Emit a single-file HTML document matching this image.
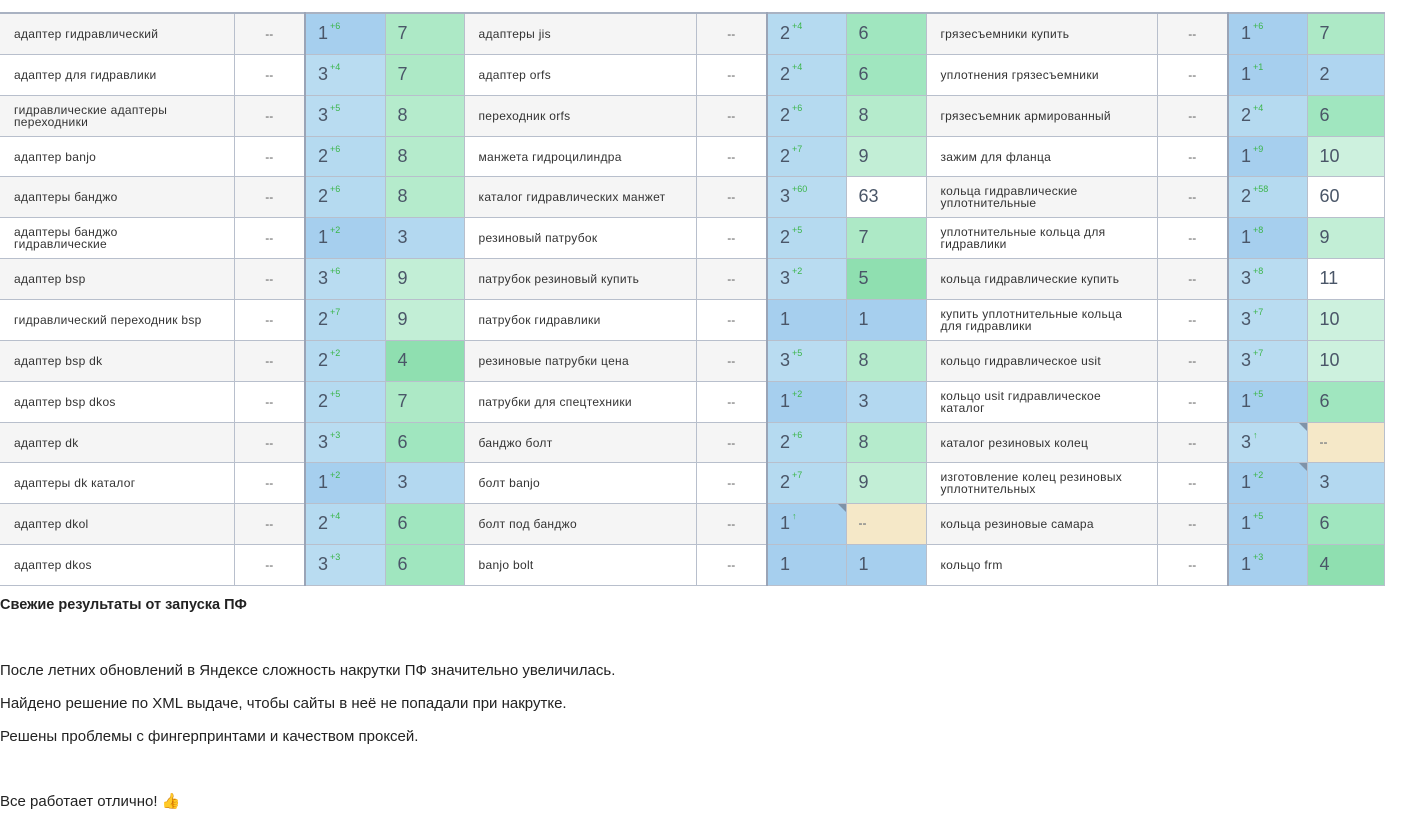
<!DOCTYPE html>
<html><head><meta charset="utf-8"><style>
body{margin:0;background:#fff;font-family:"Liberation Sans","DejaVu Sans",sans-serif;width:1406px;height:820px;overflow:hidden;position:relative}
table{position:absolute;left:0;top:12px;border-collapse:collapse;table-layout:fixed;width:1384px;border-top:2px solid #a9b2c2}
td{height:39.86px;border:1px solid #b8bfcc;padding:0;vertical-align:middle;font-size:12px;color:#333;overflow:hidden}
tr td:first-child{border-left:none}
tr:nth-child(odd) td.k,tr:nth-child(odd) td.d{background:#f5f5f5}
td.k{padding-left:14px;padding-right:22px;line-height:12px;letter-spacing:0.3px}
td.d{text-align:center;color:#555}
td.p,td.v{vertical-align:top;padding-left:12px;font-size:18px;color:#4a5668;padding-top:9px;height:30.86px;position:relative}
td.p{border-left:2px solid #9aa4b6}
td.p sup{font-size:9px;color:#3bb54a;vertical-align:top;position:relative;top:-2px;margin-left:2px}
.p1{background:#a6cfee}.p2{background:#b5daf0}.p3{background:#b9dcf1}
.b1{background:#a6cfee}.b2{background:#afd5f0}.b3{background:#b3d8f0}
.g4,.g5{background:#8fdfb0}.g6{background:#a0e6bf}.g7{background:#ade9c6}.g8{background:#b5ebcc}.g9{background:#c2eed6}.g10{background:#cdf1de}.w{background:#fff}
.y{background:#f5e8c8;font-size:12px!important;padding-top:12px!important;height:27.86px!important}
.c::after{content:"";position:absolute;right:0;top:0;border-style:solid;border-width:0 8px 8px 0;border-color:transparent #7f93a8 transparent transparent}
.t{position:absolute;left:0;font-size:15px;color:#222;white-space:nowrap}
</style></head><body>
<table>
<colgroup><col style="width:234px"><col style="width:71px"><col style="width:80px"><col style="width:79px"><col style="width:232px"><col style="width:71px"><col style="width:79px"><col style="width:80px"><col style="width:231px"><col style="width:71px"><col style="width:79px"><col style="width:77px"></colgroup>
<tr><td class="k">адаптер гидравлический</td><td class="d">--</td><td class="p p1">1<sup>+6</sup></td><td class="v g7">7</td><td class="k">адаптеры jis</td><td class="d">--</td><td class="p p2">2<sup>+4</sup></td><td class="v g6">6</td><td class="k">грязесъемники купить</td><td class="d">--</td><td class="p p1">1<sup>+6</sup></td><td class="v g7">7</td></tr>
<tr><td class="k">адаптер для гидравлики</td><td class="d">--</td><td class="p p3">3<sup>+4</sup></td><td class="v g7">7</td><td class="k">адаптер orfs</td><td class="d">--</td><td class="p p2">2<sup>+4</sup></td><td class="v g6">6</td><td class="k">уплотнения грязесъемники</td><td class="d">--</td><td class="p p1">1<sup>+1</sup></td><td class="v b2">2</td></tr>
<tr><td class="k">гидравлические адаптеры переходники</td><td class="d">--</td><td class="p p3">3<sup>+5</sup></td><td class="v g8">8</td><td class="k">переходник orfs</td><td class="d">--</td><td class="p p2">2<sup>+6</sup></td><td class="v g8">8</td><td class="k">грязесъемник армированный</td><td class="d">--</td><td class="p p2">2<sup>+4</sup></td><td class="v g6">6</td></tr>
<tr><td class="k">адаптер banjo</td><td class="d">--</td><td class="p p2">2<sup>+6</sup></td><td class="v g8">8</td><td class="k">манжета гидроцилиндра</td><td class="d">--</td><td class="p p2">2<sup>+7</sup></td><td class="v g9">9</td><td class="k">зажим для фланца</td><td class="d">--</td><td class="p p1">1<sup>+9</sup></td><td class="v g10">10</td></tr>
<tr><td class="k">адаптеры банджо</td><td class="d">--</td><td class="p p2">2<sup>+6</sup></td><td class="v g8">8</td><td class="k">каталог гидравлических манжет</td><td class="d">--</td><td class="p p3">3<sup>+60</sup></td><td class="v w">63</td><td class="k">кольца гидравлические уплотнительные</td><td class="d">--</td><td class="p p2">2<sup>+58</sup></td><td class="v w">60</td></tr>
<tr><td class="k">адаптеры банджо<br>гидравлические</td><td class="d">--</td><td class="p p1">1<sup>+2</sup></td><td class="v b3">3</td><td class="k">резиновый патрубок</td><td class="d">--</td><td class="p p2">2<sup>+5</sup></td><td class="v g7">7</td><td class="k">уплотнительные кольца для<br>гидравлики</td><td class="d">--</td><td class="p p1">1<sup>+8</sup></td><td class="v g9">9</td></tr>
<tr><td class="k">адаптер bsp</td><td class="d">--</td><td class="p p3">3<sup>+6</sup></td><td class="v g9">9</td><td class="k">патрубок резиновый купить</td><td class="d">--</td><td class="p p3">3<sup>+2</sup></td><td class="v g5">5</td><td class="k">кольца гидравлические купить</td><td class="d">--</td><td class="p p3">3<sup>+8</sup></td><td class="v w">11</td></tr>
<tr><td class="k">гидравлический переходник bsp</td><td class="d">--</td><td class="p p2">2<sup>+7</sup></td><td class="v g9">9</td><td class="k">патрубок гидравлики</td><td class="d">--</td><td class="p p1">1</td><td class="v b1">1</td><td class="k">купить уплотнительные кольца<br>для гидравлики</td><td class="d">--</td><td class="p p3">3<sup>+7</sup></td><td class="v g10">10</td></tr>
<tr><td class="k">адаптер bsp dk</td><td class="d">--</td><td class="p p2">2<sup>+2</sup></td><td class="v g4">4</td><td class="k">резиновые патрубки цена</td><td class="d">--</td><td class="p p3">3<sup>+5</sup></td><td class="v g8">8</td><td class="k">кольцо гидравлическое usit</td><td class="d">--</td><td class="p p3">3<sup>+7</sup></td><td class="v g10">10</td></tr>
<tr><td class="k">адаптер bsp dkos</td><td class="d">--</td><td class="p p2">2<sup>+5</sup></td><td class="v g7">7</td><td class="k">патрубки для спецтехники</td><td class="d">--</td><td class="p p1">1<sup>+2</sup></td><td class="v b3">3</td><td class="k">кольцо usit гидравлическое<br>каталог</td><td class="d">--</td><td class="p p1">1<sup>+5</sup></td><td class="v g6">6</td></tr>
<tr><td class="k">адаптер dk</td><td class="d">--</td><td class="p p3">3<sup>+3</sup></td><td class="v g6">6</td><td class="k">банджо болт</td><td class="d">--</td><td class="p p2">2<sup>+6</sup></td><td class="v g8">8</td><td class="k">каталог резиновых колец</td><td class="d">--</td><td class="p p3 c">3<sup>↑</sup></td><td class="v y">--</td></tr>
<tr><td class="k">адаптеры dk каталог</td><td class="d">--</td><td class="p p1">1<sup>+2</sup></td><td class="v b3">3</td><td class="k">болт banjo</td><td class="d">--</td><td class="p p2">2<sup>+7</sup></td><td class="v g9">9</td><td class="k">изготовление колец резиновых<br>уплотнительных</td><td class="d">--</td><td class="p p1 c">1<sup>+2</sup></td><td class="v b3">3</td></tr>
<tr><td class="k">адаптер dkol</td><td class="d">--</td><td class="p p2">2<sup>+4</sup></td><td class="v g6">6</td><td class="k">болт под банджо</td><td class="d">--</td><td class="p p1 c">1<sup>↑</sup></td><td class="v y">--</td><td class="k">кольца резиновые самара</td><td class="d">--</td><td class="p p1">1<sup>+5</sup></td><td class="v g6">6</td></tr>
<tr><td class="k">адаптер dkos</td><td class="d">--</td><td class="p p3">3<sup>+3</sup></td><td class="v g6">6</td><td class="k">banjo bolt</td><td class="d">--</td><td class="p p1">1</td><td class="v b1">1</td><td class="k">кольцо frm</td><td class="d">--</td><td class="p p1">1<sup>+3</sup></td><td class="v g4">4</td></tr>
</table>
<div class="t" style="top:597px;font-weight:bold;font-size:14.5px">Свежие результаты от запуска ПФ</div>
<div class="t" style="top:662px">После летних обновлений в Яндексе сложность накрутки ПФ значительно увеличилась.</div>
<div class="t" style="top:695px">Найдено решение по XML выдаче, чтобы сайты в неё не попадали при накрутке.</div>
<div class="t" style="top:728px">Решены проблемы с фингерпринтами и качеством проксей.</div>
<div class="t" style="top:792px">Все работает отлично! <span style="color:#f2b632">👍</span></div>
</body></html>
